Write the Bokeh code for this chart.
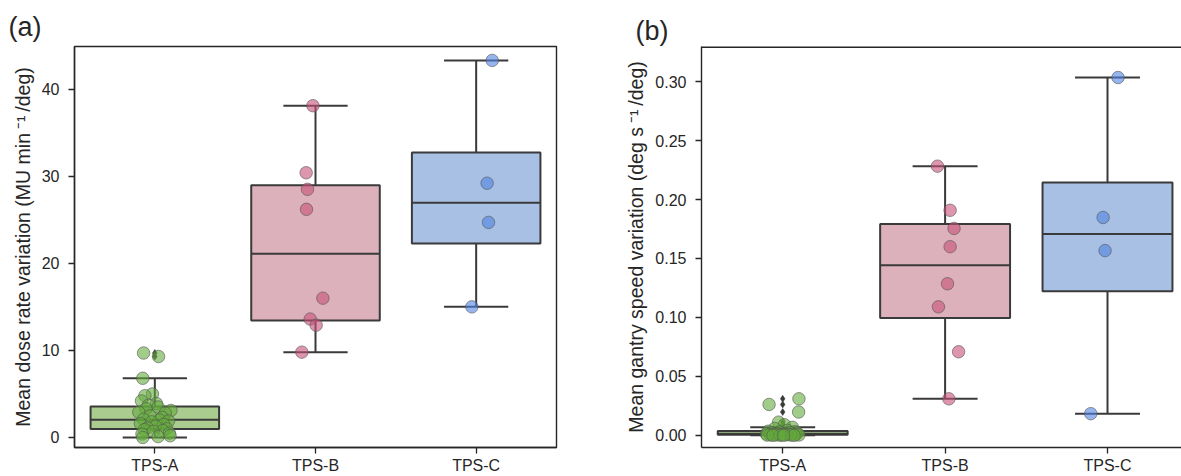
import numpy as np
from bokeh.plotting import figure
from bokeh.layouts import row
from bokeh.models import Range1d, FixedTicker, Span, NumeralTickFormatter
from bokeh.embed import file_html
from bokeh.resources import INLINE

# ---------------- data ----------------
CATEGORIES = ["TPS-A", "TPS-B", "TPS-C"]

DOSE_A = [9.7, 9.3, 6.8, 5.0, 4.8, 4.2, 3.9, 3.7, 3.5, 3.3, 3.1, 2.9, 2.8, 2.5, 2.3, 2.1,
          2.0, 1.9, 1.8, 1.6, 1.5, 1.3, 1.1, 1.0, 0.9, 0.8, 0.7, 0.5, 0.4, 0.2, 0.1, 0.0]
DOSE_B = [38.1, 30.4, 28.5, 26.2, 16.0, 13.6, 12.9, 9.8]
DOSE_C = [43.3, 29.2, 24.7, 15.0]

GANTRY_A = [0.031, 0.0262, 0.0198, 0.0112, 0.0090, 0.0068, 0.0058, 0.0042, 0.0035, 0.0031,
            0.0028, 0.0025, 0.0022, 0.0019, 0.0016, 0.0014, 0.0012, 0.0011, 0.0010, 0.0009,
            0.0008, 0.0007, 0.0006, 0.0005, 0.0004, 0.0003, 0.0002, 0.0002, 0.0001, 0.0, 0.0, 0.0]
GANTRY_B = [0.2283, 0.1909, 0.1755, 0.160, 0.1286, 0.109, 0.0709, 0.031]
GANTRY_C = [0.3035, 0.1848, 0.1567, 0.0184]

Y_TICKS_DOSE = [0, 10, 20, 30, 40]
Y_TICKS_GANTRY = [0.00, 0.05, 0.10, 0.15, 0.20, 0.25, 0.30]

PANEL_TITLES = ["(a)", "(b)"]
Y_LABELS = ["Mean dose rate variation (MU min\u2009\u207b\u00b9\u2009/deg)",
            "Mean gantry speed variation (deg s\u2009\u207b\u00b9\u2009/deg)"]

# ---------------- strip-plot horizontal offsets (layout) ----------------
JIT_DOSE = [
    [-0.07, 0.023, -0.075, -0.015, -0.062, -0.083, 0.01, -0.04, 0.02, -0.055, 0.1, -0.1,
     0.065, -0.03, 0.045, -0.07, 0.03, 0.085, -0.02, -0.09, 0.055, 0.005, -0.045, 0.075,
     -0.065, 0.05, -0.01, 0.09, -0.08, 0.095, 0.02, -0.075],
    [-0.016, -0.058, -0.05, -0.056, 0.046, -0.033, 0.004, -0.085],
    [0.1, 0.068, 0.077, -0.027],
]
JIT_GANTRY = [
    [0.1, -0.084, 0.098, -0.025, 0.01, 0.06, -0.05, 0.03, -0.09, 0.075, -0.02, 0.045,
     -0.065, 0.09, -0.035, 0.015, -0.1, 0.06, -0.055, 0.035, -0.01, 0.08, -0.075, 0.02,
     -0.04, 0.1, -0.095, 0.05, -0.015, 0.07, -0.06, 0.005],
    [-0.047, 0.031, 0.055, 0.031, 0.015, -0.041, 0.083, 0.023],
    [0.065, -0.027, -0.015, -0.103],
]

BOX_FILL = ["#aacc8f", "#dcb1bb", "#a8c0e4"]
PT_COLOR = ["#63aa3a", "#c75078", "#5082e1"]
LINE = "#3a3a3a"
TXT = "#262626"
FONT = "Liberation Sans"


def style_axes(p, y_ticks, y_label, title, title_offset, title_standoff):
    p.xgrid.visible = False
    p.ygrid.visible = False
    p.background_fill_color = "white"
    p.border_fill_color = "white"
    p.xaxis.ticker = FixedTicker(ticks=list(range(len(CATEGORIES))))
    p.xaxis.major_label_overrides = {i: c for i, c in enumerate(CATEGORIES)}
    p.yaxis.ticker = FixedTicker(ticks=y_ticks)
    p.yaxis.axis_label = y_label
    for ax in p.xaxis + p.yaxis:
        ax.axis_line_color = TXT
        ax.axis_line_width = 1.4
        ax.major_tick_line_color = TXT
        ax.major_tick_line_width = 1.3
        ax.major_tick_in = 0
        ax.major_tick_out = 6
        ax.minor_tick_line_color = None
        ax.major_label_text_font = FONT
        ax.major_label_text_font_size = "16px"
        ax.major_label_text_color = TXT
        ax.axis_label_text_font = FONT
        ax.axis_label_text_font_style = "normal"
        ax.axis_label_text_font_size = "19.5px"
        ax.axis_label_text_color = TXT
    p.xaxis.major_label_standoff = 3
    p.xaxis.axis_label_standoff = 0
    p.yaxis.major_label_standoff = 9
    p.yaxis.axis_label_standoff = 5
    p.title.text = title
    p.title.align = "left"
    p.title.offset = title_offset
    p.title.standoff = title_standoff
    p.title.text_font = FONT
    p.title.text_font_style = "normal"
    p.title.text_font_size = "27px"
    p.title.text_color = TXT


def draw_groups(p, groups, jitters):
    for i, (vals, jit) in enumerate(zip(groups, jitters)):
        arr = np.array(vals, dtype=float)
        q1, med, q3 = np.percentile(arr, [25, 50, 75])
        iqr = q3 - q1
        hi = arr[arr <= q3 + 1.5 * iqr].max()
        lo = arr[arr >= q1 - 1.5 * iqr].min()
        fliers = arr[(arr > hi) | (arr < lo)]
        # whiskers
        p.segment(x0=[i, i], y0=[q3, q1], x1=[i, i], y1=[hi, lo],
                  line_color=LINE, line_width=2)
        p.segment(x0=[i - 0.2, i - 0.2], y0=[hi, lo], x1=[i + 0.2, i + 0.2], y1=[hi, lo],
                  line_color=LINE, line_width=2)
        # box
        p.vbar(x=[i], width=0.8, bottom=[q1], top=[q3], fill_color=BOX_FILL[i],
               line_color=LINE, line_width=2)
        p.segment(x0=[i - 0.4], y0=[med], x1=[i + 0.4], y1=[med],
                  line_color=LINE, line_width=2)
        # fliers
        if len(fliers):
            p.scatter(x=[i] * len(fliers), y=list(fliers), marker="diamond", size=7,
                      fill_color=LINE, line_color=LINE, line_width=0.5)
        # points
        xs = [i + j for j in jit]
        p.scatter(x=xs, y=list(arr), marker="circle", size=12.5,
                  fill_color=PT_COLOR[i], fill_alpha=0.6,
                  line_color="#555555", line_alpha=0.6, line_width=1)


# ---------------- panel (a) ----------------
pa = figure(width=616, height=476, x_range=Range1d(-0.5, 2.5), y_range=Range1d(-1.15, 44.9),
            output_backend="svg", toolbar_location=None,
            min_border_left=74, min_border_right=60, min_border_top=46, min_border_bottom=0)
style_axes(pa, Y_TICKS_DOSE, Y_LABELS[0], PANEL_TITLES[0], -66, 9)
pa.outline_line_color = TXT
pa.outline_line_width = 1.4
pa.outline_line_alpha = 1
draw_groups(pa, [DOSE_A, DOSE_B, DOSE_C], JIT_DOSE)

# ---------------- panel (b) ----------------
pb = figure(width=565, height=476, x_range=Range1d(-0.5, -0.5 + 480 / 162.4),
            y_range=Range1d(-0.0103, 0.3298),
            output_backend="svg", toolbar_location=None,
            min_border_left=85, min_border_right=0, min_border_top=42, min_border_bottom=0)
style_axes(pb, Y_TICKS_GANTRY, Y_LABELS[1], PANEL_TITLES[1], -66, 1)
pb.yaxis.formatter = NumeralTickFormatter(format="0.00")
pb.outline_line_color = None
# top edge of the frame (the right edge lies outside the picture)
pb.add_layout(Span(location=pb.y_range.end, dimension="width", line_color=TXT, line_width=2.8))
draw_groups(pb, [GANTRY_A, GANTRY_B, GANTRY_C], JIT_GANTRY)

layout = row(pa, pb)
open("out.html", "w").write(file_html(layout, INLINE))
